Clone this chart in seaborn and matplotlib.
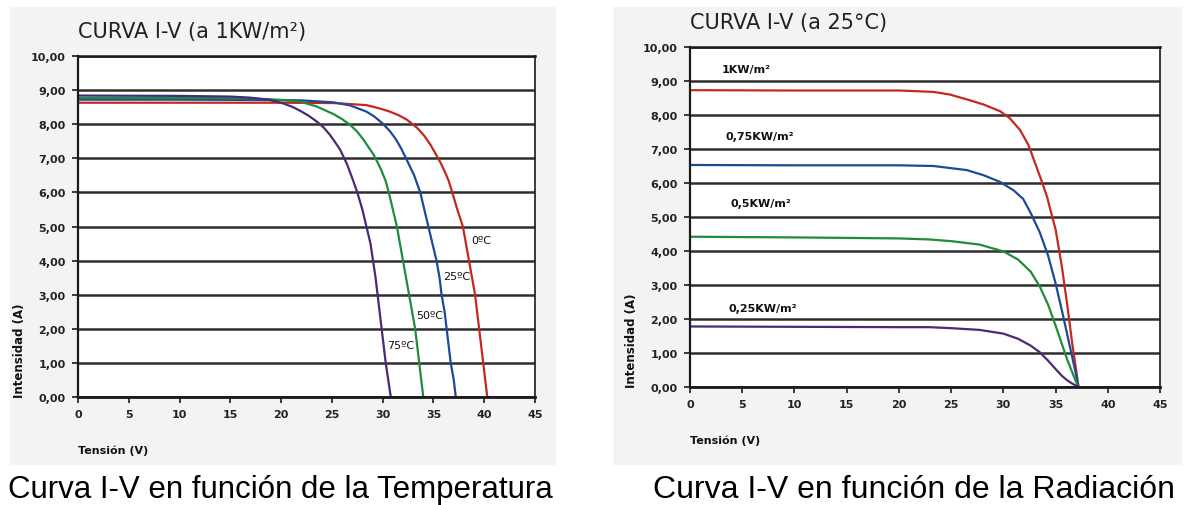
"""
Curvas I-V de un panel solar: efecto de la temperatura y de la radiación.
"""

import pandas as pd
import matplotlib.pyplot as plt
from matplotlib.patches import Rectangle
from matplotlib.ticker import FuncFormatter
import seaborn as sns

# Datos
# Curva I-V a 1 KW/m² (temperatura variable)
TEMP_LABELS = ["0ºC", "25ºC", "50ºC", "75ºC"]
V_0C = [0, 10, 20, 25.2, 28.4, 29.6, 30.7, 31.6, 32.4, 33.4, 34.1, 34.7, 35.2,
        35.7, 36.1, 36.5, 37.0, 37.4, 37.9, 38.2, 38.5, 38.8, 39.1, 39.3, 39.5,
        39.7, 39.9, 40.1, 40.3]
I_0C = [8.63, 8.63, 8.63, 8.62, 8.56, 8.47, 8.37, 8.26, 8.13, 7.89, 7.66, 7.40,
        7.14, 6.87, 6.62, 6.34, 5.85, 5.45, 5.0, 4.5, 4.0, 3.5, 3.0, 2.5, 2.0,
        1.5, 1.0, 0.5, 0.0]
V_25C = [0, 10, 18, 21.9, 25.2, 26.8, 28.4, 29.2, 30.0, 30.7, 31.3, 31.8, 32.3,
         32.7, 33.1, 33.4, 33.7, 34.1, 34.5, 34.9, 35.3, 35.6, 35.8, 36.1, 36.3,
         36.5, 36.7, 37.0, 37.2]
I_25C = [8.72, 8.72, 8.71, 8.70, 8.64, 8.55, 8.37, 8.22, 8.02, 7.8, 7.56, 7.3,
         7.0, 6.75, 6.5, 6.25, 6.0, 5.5, 5.0, 4.5, 4.0, 3.5, 3.0, 2.5, 2.0, 1.5,
         1.0, 0.5, 0.0]
V_50C = [0, 10, 17, 20.2, 21.9, 23.5, 25.2, 26.0, 26.8, 27.5, 28.1, 28.6, 29.1,
         29.5, 29.9, 30.3, 30.6, 31.0, 31.4, 31.7, 32.0, 32.3, 32.6, 32.9, 33.2,
         33.4, 33.6, 33.8, 34.0]
I_50C = [8.77, 8.77, 8.76, 8.71, 8.66, 8.52, 8.29, 8.15, 7.98, 7.78, 7.55, 7.33,
         7.11, 6.88, 6.63, 6.33, 6.0, 5.5, 5.0, 4.5, 4.0, 3.5, 3.0, 2.5, 2.0,
         1.5, 1.0, 0.5, 0.0]
V_75C = [0, 10, 15, 16.9, 18.9, 20.2, 21.1, 21.9, 22.7, 23.5, 24.2, 24.8, 25.3,
         25.8, 26.5, 27.1, 27.5, 28.0, 28.4, 28.8, 29.05, 29.3, 29.5, 29.7, 29.9,
         30.1, 30.3, 30.55, 30.8]
I_75C = [8.84, 8.83, 8.81, 8.78, 8.71, 8.61, 8.51, 8.39, 8.25, 8.08, 7.9, 7.69,
         7.48, 7.26, 6.82, 6.34, 6.0, 5.5, 5.0, 4.5, 4.0, 3.5, 3.0, 2.5, 2.0,
         1.5, 1.0, 0.5, 0.0]

# Curva I-V a 25 ºC (radiación variable)
RAD_LABELS = ["1KW/m²", "0,75KW/m²", "0,5KW/m²", "0,25KW/m²"]
V_1KW = [0, 10, 20.1, 23.3, 24.9, 26.5, 28.1, 29.7, 30.6, 31.6, 32.4, 33.0,
         33.7, 34.2, 34.6, 35.0, 35.3, 35.6, 35.85, 36.1, 36.35, 36.6, 36.9, 37.2]
I_1KW = [8.73, 8.72, 8.72, 8.68, 8.60, 8.46, 8.31, 8.11, 7.91, 7.56, 7.12, 6.62,
         6.03, 5.58, 5.1, 4.64, 4.1, 3.55, 3.0, 2.46, 1.87, 1.27, 0.65, 0.0]
V_075KW = [0, 10, 20.1, 23.3, 26.5, 28.1, 29.7, 31.0, 31.9, 32.6, 33.5, 34.3,
           35.0, 35.6, 36.1, 36.6, 36.9, 37.2]
I_075KW = [6.53, 6.52, 6.52, 6.50, 6.38, 6.23, 6.03, 5.78, 5.53, 5.13, 4.54,
           3.85, 3.05, 2.26, 1.57, 0.87, 0.45, 0.0]
V_05KW = [0, 10, 20, 22.9, 25, 27.7, 30, 31.4, 32.6, 33.5, 34.3, 35.0, 35.6,
          36.1, 36.6, 36.9, 37.2]
I_05KW = [4.42, 4.40, 4.37, 4.34, 4.29, 4.19, 3.99, 3.75, 3.40, 2.95, 2.41,
          1.81, 1.27, 0.82, 0.43, 0.2, 0.0]
V_025KW = [0, 10, 20, 22.9, 25, 27.7, 30, 31.4, 32.6, 33.5, 34.3, 35.0, 35.6,
           36.1, 36.6, 37.2]
I_025KW = [1.78, 1.77, 1.76, 1.76, 1.73, 1.68, 1.57, 1.42, 1.22, 1.02, 0.77,
           0.53, 0.33, 0.20, 0.10, 0.0]

X_TICKS = list(range(0, 50, 5))
Y_TICKS = list(range(0, 11))

COLORS = ["#c4281f", "#1d4a98", "#1f8c3a", "#482a76"]

W, H = 1184, 506


def frame(rows):
    """Construye un DataFrame largo a partir de (etiqueta, V, I)."""
    parts = [pd.DataFrame({"V": v, "I": i, "curva": lab}) for lab, v, i in rows]
    return pd.concat(parts, ignore_index=True)


def px_axes(fig, left, top, right, bottom):
    return fig.add_axes([left / W, 1 - bottom / H, (right - left) / W,
                         (bottom - top) / H])


def style_axes(ax, title, title_pad):
    ax.set_xlim(0, 45)
    ax.set_ylim(0, 10)
    ax.set_xticks(X_TICKS)
    ax.set_yticks(Y_TICKS)
    ax.yaxis.set_major_formatter(
        FuncFormatter(lambda v, _: f"{v:.2f}".replace(".", ",")))
    ax.set_facecolor("white")
    ax.grid(axis="y", color="#2e2e2e", lw=1.8)
    ax.grid(axis="x", visible=False)
    ax.set_axisbelow(True)
    for side in ["left", "bottom", "right", "top"]:
        ax.spines[side].set_visible(True)
        ax.spines[side].set_color("#1a1a1a")
    ax.spines["left"].set_linewidth(1.6)
    ax.spines["bottom"].set_linewidth(2.0)
    ax.spines["top"].set_linewidth(1.8)
    ax.spines["right"].set_linewidth(1.2)
    ax.tick_params(axis="both", length=4, width=1.2, color="#1a1a1a",
                   labelsize=8, labelcolor="#222222", pad=5,
                   left=True, bottom=True)
    for lab in ax.get_xticklabels() + ax.get_yticklabels():
        lab.set_fontweight("bold")
    ax.set_xlabel("Tensión (V)", loc="left", fontsize=8, fontweight="bold",
                  labelpad=18, color="#111111")
    ax.set_ylabel("Intensidad (A)", loc="bottom", fontsize=8.5,
                  fontweight="bold", labelpad=3, color="#111111")
    ax.set_title(title, loc="left", fontsize=15, pad=title_pad,
                 color="#222222")


def main():
    sns.set_theme(style="white")
    plt.rcParams["font.family"] = ["DejaVu Sans"]

    fig = plt.figure(figsize=(W / 100, H / 100), dpi=100)
    fig.patch.set_facecolor("white")

    # fondos grises de cada panel
    for x0, x1 in [(10, 556), (613, 1182)]:
        fig.patches.append(Rectangle((x0 / W, 1 - 466 / H), (x1 - x0) / W,
                                     458 / H, transform=fig.transFigure,
                                     facecolor="#f3f3f3", edgecolor="none",
                                     zorder=-10))

    # Panel izquierdo: temperatura
    ax1 = px_axes(fig, 78, 57, 535, 398)
    df_t = frame([(TEMP_LABELS[0], V_0C, I_0C), (TEMP_LABELS[1], V_25C, I_25C),
                  (TEMP_LABELS[2], V_50C, I_50C), (TEMP_LABELS[3], V_75C, I_75C)])
    sns.lineplot(data=df_t, x="V", y="I", hue="curva", palette=COLORS,
                 hue_order=TEMP_LABELS, lw=1.6, legend=False, ax=ax1,
                 estimator=None, sort=False)
    style_axes(ax1, "CURVA I-V (a 1KW/m²)", 14)
    temp_pos = [(38.7, 4.6), (36.0, 3.55), (33.3, 2.4), (30.4, 1.52)]
    for lab, (x, y) in zip(TEMP_LABELS, temp_pos):
        ax1.text(x, y, lab, fontsize=8, va="center", ha="left",
                 color="#111111")

    # Panel derecho: radiación
    ax2 = px_axes(fig, 690, 48, 1160, 388)
    df_r = frame([(RAD_LABELS[0], V_1KW, I_1KW), (RAD_LABELS[1], V_075KW, I_075KW),
                  (RAD_LABELS[2], V_05KW, I_05KW), (RAD_LABELS[3], V_025KW, I_025KW)])
    sns.lineplot(data=df_r, x="V", y="I", hue="curva", palette=COLORS,
                 hue_order=RAD_LABELS, lw=1.6, legend=False, ax=ax2,
                 estimator=None, sort=False)
    style_axes(ax2, "CURVA I-V (a 25°C)", 14)
    rad_pos = [(3.0, 9.36), (3.4, 7.38), (3.9, 5.4), (3.7, 2.33)]
    for lab, (x, y) in zip(RAD_LABELS, rad_pos):
        ax2.text(x, y, lab, fontsize=8, fontweight="bold", va="center",
                 ha="left", color="#111111")

    # Pies de figura
    cap_font = ["Liberation Sans", "DejaVu Sans"]
    fig.text(280 / W, 1 - 490 / H, "Curva I-V en función de la Temperatura",
             fontsize=22.5, family=cap_font, ha="center", va="center",
             color="black")
    fig.text(914 / W, 1 - 490 / H, "Curva I-V en función de la Radiación",
             fontsize=23, family=cap_font, ha="center", va="center",
             color="black")

    fig.savefig("out.png", dpi=100)


if __name__ == "__main__":
    main()
